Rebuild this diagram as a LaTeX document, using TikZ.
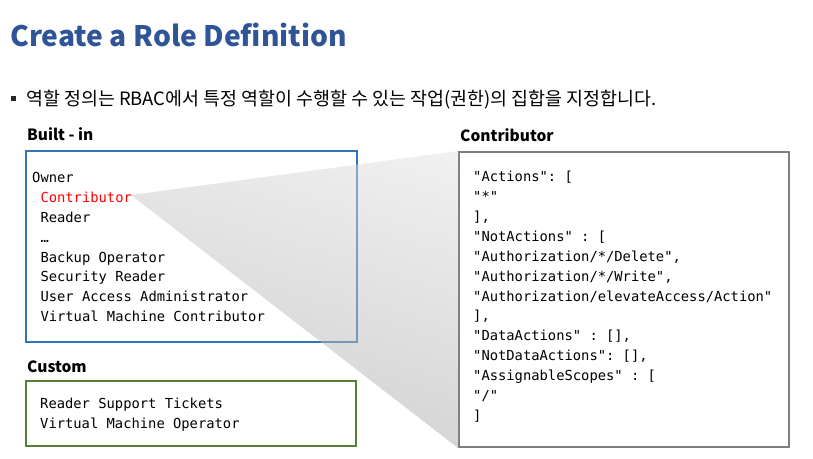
\documentclass[tikz,border=0pt]{standalone}
\usepackage{fontspec}
\setmainfont{Noto Sans CJK KR}
\setmonofont{DejaVu Sans Mono}
\usetikzlibrary{positioning,shadings}
\definecolor{titleblue}{RGB}{47,85,151}
\definecolor{boxblue}{RGB}{46,117,182}
\definecolor{boxgreen}{RGB}{84,130,53}
\definecolor{boxgrey}{RGB}{127,127,127}
\definecolor{rolered}{RGB}{255,0,0}
\tikzset{
  rolebox/.style  = {rectangle, draw=#1, line width=2pt, anchor=north west,
                     inner sep=0pt},
  boxlabel/.style = {anchor=base west, inner sep=0pt, font=\fontsize{15.5}{18}\selectfont\bfseries},
  listing/.style  = {anchor=north west, inner sep=0pt, align=left,
                     font=\fontsize{13.8}{19.9}\selectfont\ttfamily},
}

\begin{document}
\begin{tikzpicture}[x=1pt, y=-1pt]
\useasboundingbox (0,0) rectangle (813,458);

% heading and bullet
\node[anchor=base west, inner sep=0pt, text=titleblue,
      font=\fontsize{28.2}{34}\selectfont\bfseries] (title) at (10,46) {Create a Role Definition};
\node[rectangle, fill=black!85, minimum size=5.5pt, inner sep=0pt] (dot) at (13.5,98.5) {};
\node[anchor=base west, inner sep=0pt, font=\fontsize{18.4}{22}\selectfont] (intro) at (26,105.5)
  {역할 정의는 RBAC에서 특정 역할이 수행할 수 있는 작업(권한)의 집합을 지정합니다.};

% built-in roles
\node[rolebox=boxblue, minimum width=331pt, minimum height=191pt] (builtin) at (25,150) {};
\node[boxlabel] (builtinlbl) at (27,140.5) {Built - in};
\node[listing] (builtinlist) at (32,172) {%
  Owner\\
  \hphantom{x}\textcolor{rolered}{Contributor}\\
  \hphantom{x}Reader\\
  \hphantom{x}…\\
  \hphantom{x}Backup Operator\\
  \hphantom{x}Security Reader\\
  \hphantom{x}User Access Administrator\\
  \hphantom{x}Virtual Machine Contributor};
\coordinate (ziptip) at (131,195);

% custom roles
\node[rolebox=boxgreen, minimum width=330pt, minimum height=65pt] (custom) at (25,380) {};
\node[boxlabel] (customlbl) at (27,372) {Custom};
\node[listing] (customlist) at (40,398) {%
  Reader Support Tickets\\
  Virtual Machine Operator};

% contributor definition
\node[rolebox=boxgrey, minimum width=330pt, minimum height=295pt] (contrib) at (458,151) {};
\node[boxlabel] (contriblbl) at (460,141) {Contributor};
\node[listing] (contriblist) at (473,171) {%
  "Actions": [\\
  "*"\\
  ],\\
  "NotActions" : [\\
  "Authorization/*/Delete",\\
  "Authorization/*/Write",\\
  "Authorization/elevateAccess/Action"\\
  ],\\
  "DataActions" : [],\\
  "NotDataActions": [],\\
  "AssignableScopes" : [\\
  "/"\\
  ]};

% zoom wedge
\shade[upper left=black!18, lower left=black!40, upper right=black!11,
       lower right=black!32, opacity=0.5]
  (ziptip) -- (contrib.north west) -- (contrib.south west) -- cycle;

\end{tikzpicture}
\end{document}
